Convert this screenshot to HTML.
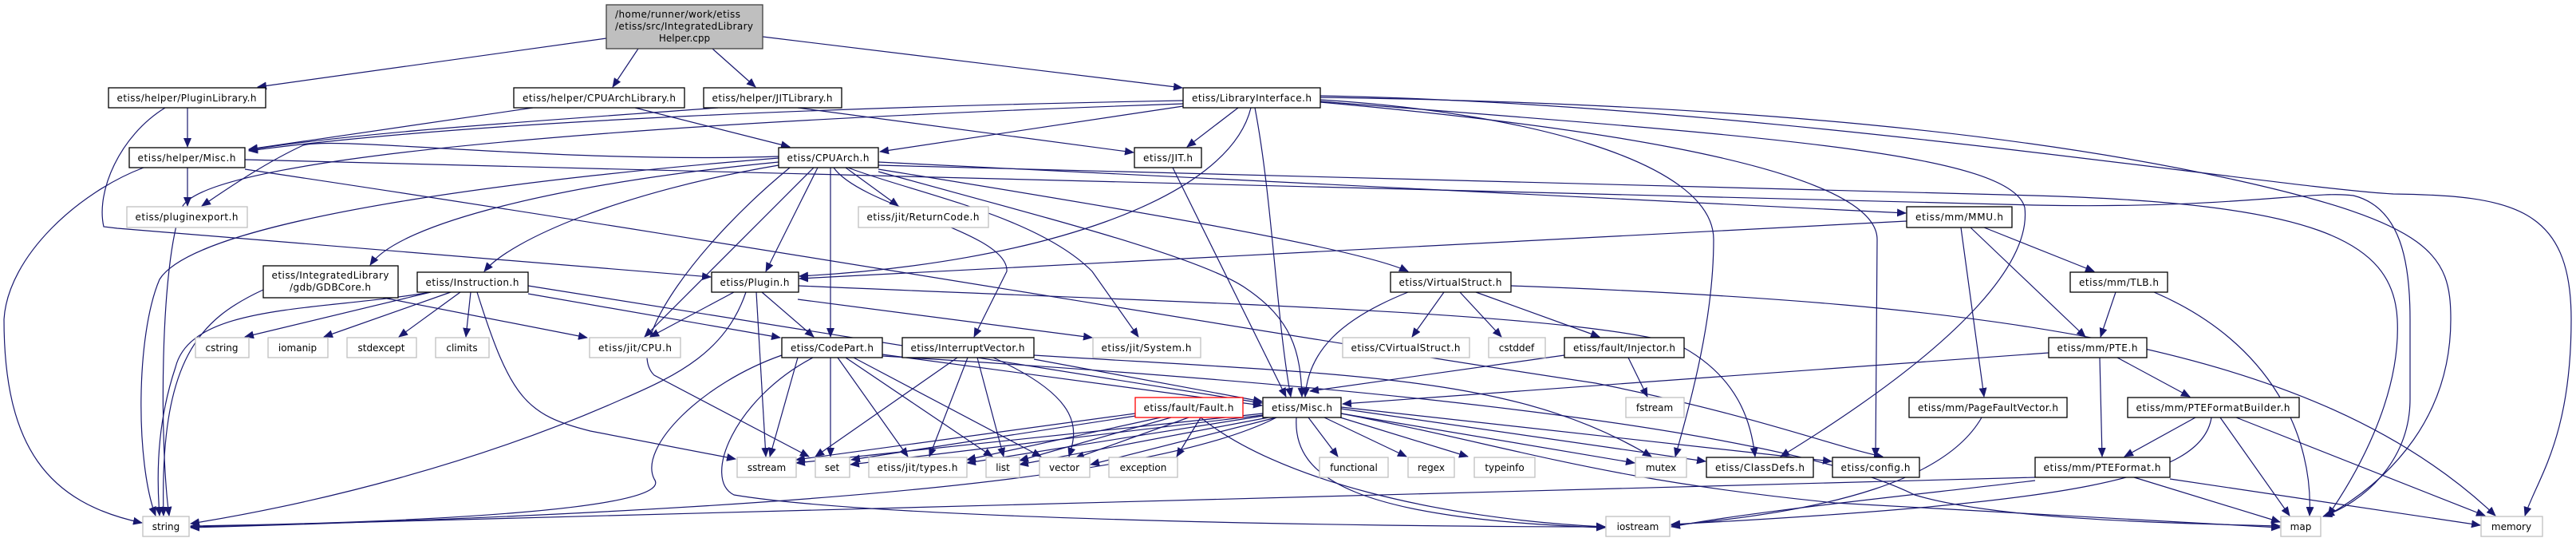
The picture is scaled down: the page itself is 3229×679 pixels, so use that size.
<!DOCTYPE html>
<html><head><meta charset="utf-8"><style>
html,body{margin:0;padding:0;background:#fff;width:3229px;height:679px;overflow:hidden}
svg text{font-family:"DejaVu Sans","Liberation Sans",sans-serif;font-size:12px;fill:#000}
.e{fill:none;stroke:#191970;stroke-width:1.2}
.b{fill:#fff;stroke:#000;stroke-width:1.3}
.g{fill:#fff;stroke:#bfbfbf;stroke-width:1.3}
</style></head><body>
<svg width="3229" height="679" viewBox="0 0 3229 679" xmlns="http://www.w3.org/2000/svg">
<defs><marker id="a" markerWidth="12" markerHeight="10" refX="11" refY="5" orient="auto" markerUnits="userSpaceOnUse"><path d="M0,0 L12,5 L0,10 z" fill="#191970"/></marker></defs>
<g class="e" marker-end="url(#a)">
<path d="M760,48 L323,109"/>
<path d="M800,61 L768,109"/>
<path d="M893,61 L947,109"/>
<path d="M956,46 L1482,110"/>
<path d="M235,135 L235,184"/>
<path d="M207,135 C150,170 120,240 130,284 L147,286 L891,347"/>
<path d="M668,135 L312,187"/>
<path d="M796,135 L990,184"/>
<path d="M900,135 C700,150 450,165 312,188"/>
<path d="M1483,126 C1100,133 600,150 312,189"/>
<path d="M976,196 C700,205 420,170 380,182 C330,205 280,240 253,258"/>
<path d="M1000,135 L1421,191"/>
<path d="M1483,133 L1103,190"/>
<path d="M1552,135 L1488,184"/>
<path d="M1568,135 C1540,250 1300,330 1002,346"/>
<path d="M1025,210 L960,340"/>
<path d="M2390,277 L1002,349"/>
<path d="M1573,135 C1595,250 1600,400 1618,497"/>
<path d="M1483,130 C900,150 260,190 228,260 C200,330 200,560 212,646"/>
<path d="M1655,125 C1900,140 2148,200 2148,300 C2148,400 2120,500 2100,572"/>
<path d="M1655,128 C1900,150 2353,200 2353,300 L2351,572"/>
<path d="M1655,127 C2200,170 2520,190 2538,260 C2545,320 2480,420 2232,572"/>
<path d="M1655,122 C2200,130 2550,170 2800,225 C3050,280 3072,320 3072,400 C3072,520 3000,600 2915,647"/>
<path d="M1655,120 C2200,130 2850,235 3000,243 C3150,245 3223,260 3223,400 C3223,550 3180,600 3165,646"/>
<path d="M307,200 L2550,257 C2800,262 2900,238 2950,245 C3010,260 3021,330 3021,400 L3021,500 C3021,580 2960,630 2912,647"/>
<path d="M307,212 C900,300 1600,420 2000,480 C2200,520 2300,560 2360,572"/>
<path d="M180,210 C100,240 10,320 5,400 C5,560 60,630 178,655"/>
<path d="M235,210 L235,258"/>
<path d="M976,203 C700,230 500,280 464,332"/>
<path d="M976,207 C780,240 640,300 607,340"/>
<path d="M976,198 C700,220 250,270 200,350 C170,420 170,580 195,646"/>
<path d="M1020,210 L808,422"/>
<path d="M1041,210 L1041,422"/>
<path d="M1045,210 C1080,260 1265,290 1262,340 L1221,422"/>
<path d="M1060,210 L1126,258"/>
<path d="M1063,210 C1140,240 1300,270 1369,340 L1427,422"/>
<path d="M1101,212 C1400,260 1700,310 1765,340"/>
<path d="M1101,203 L2389,267"/>
<path d="M990,210 C880,300 780,430 820,470 L1014,572"/>
<path d="M1101,207 L2550,245 C2900,255 3000,300 3005,400 C3010,500 2950,600 2918,646"/>
<path d="M1101,215 C1300,270 1500,320 1560,360 C1620,400 1630,440 1632,497"/>
<path d="M1470,210 L1612,497"/>
<path d="M2458,285 L2487,497"/>
<path d="M2487,285 L2625,340"/>
<path d="M2470,285 L2614,422"/>
<path d="M2652,366 L2633,422"/>
<path d="M2700,366 C2850,430 2900,550 2895,646"/>
<path d="M2568,442 L1683,506"/>
<path d="M2654,448 L2745,497"/>
<path d="M2632,448 L2635,572"/>
<path d="M2752,523 L2663,572"/>
<path d="M2783,523 L2870,646"/>
<path d="M2803,523 L3115,646"/>
<path d="M2772,523 C2760,600 2600,630 2095,657"/>
<path d="M2675,598 L2858,654"/>
<path d="M2720,600 L3109,658"/>
<path d="M2551,598 C1500,630 700,645 239,660"/>
<path d="M2551,602 C2400,620 2200,640 2095,660"/>
<path d="M2484,523 C2440,600 2300,640 2095,658"/>
<path d="M330,363 C250,400 200,450 205,646"/>
<path d="M480,373 L736,423"/>
<path d="M540,366 L307,422"/>
<path d="M565,366 L406,422"/>
<path d="M577,366 L500,422"/>
<path d="M590,366 L584,422"/>
<path d="M540,366 C400,390 240,380 220,460 C200,520 195,580 200,646"/>
<path d="M598,366 C640,500 660,520 740,540 L922,575"/>
<path d="M662,358 L1582,505"/>
<path d="M662,368 L978,423"/>
<path d="M920,366 L815,422"/>
<path d="M955,366 L1020,422"/>
<path d="M948,366 L960,572"/>
<path d="M935,366 C910,440 850,470 780,500 C600,580 400,630 239,656"/>
<path d="M1000,375 L1369,423"/>
<path d="M1001,358 C1500,380 1950,390 2100,430 C2180,470 2195,530 2200,572"/>
<path d="M1000,448 L965,572"/>
<path d="M1041,448 L1041,572"/>
<path d="M1050,448 L1138,572"/>
<path d="M1060,448 L1244,572"/>
<path d="M1070,448 L1305,572"/>
<path d="M1106,444 L1582,508"/>
<path d="M980,445 C880,480 800,560 820,600 C850,640 500,655 239,659"/>
<path d="M1019,448 C920,500 880,600 920,620 C1100,650 1700,660 2012,660"/>
<path d="M1106,446 C1500,470 2200,520 2400,620 C2500,650 2700,655 2858,659"/>
<path d="M1200,448 L1022,572"/>
<path d="M1213,448 L1165,572"/>
<path d="M1225,448 L1258,572"/>
<path d="M1245,448 C1360,500 1350,540 1340,572"/>
<path d="M1296,450 L1582,503"/>
<path d="M1296,445 C1700,470 1900,470 2070,572"/>
<path d="M1765,366 C1680,400 1640,440 1636,497"/>
<path d="M1810,366 L1770,422"/>
<path d="M1830,366 L1882,422"/>
<path d="M1850,366 L2005,422"/>
<path d="M1894,358 C2500,380 2900,430 3128,646"/>
<path d="M1961,445 L1642,490"/>
<path d="M2041,448 L2065,497"/>
<path d="M1423,518 L998,576"/>
<path d="M1430,520 L1067,576"/>
<path d="M1455,523 L1212,576"/>
<path d="M1468,523 L1278,577"/>
<path d="M1490,523 L1348,574"/>
<path d="M1505,523 L1475,572"/>
<path d="M1505,523 C1600,600 1800,650 2012,660"/>
<path d="M1583,518 L998,580"/>
<path d="M1583,520 L1066,582"/>
<path d="M1583,521 L1212,580"/>
<path d="M1590,523 L1278,582"/>
<path d="M1600,523 L1367,582"/>
<path d="M1640,523 L1677,572"/>
<path d="M1660,523 L1763,572"/>
<path d="M1680,523 L1840,572"/>
<path d="M1681,518 L2049,580"/>
<path d="M1681,512 L2138,578"/>
<path d="M1681,510 L2296,578"/>
<path d="M1625,523 C1620,600 1700,650 2012,661"/>
<path d="M1600,523 C1450,600 1000,640 239,661"/>
<path d="M1681,518 C1900,560 2000,600 2300,630 L2858,661"/>
</g>
<rect x="760" y="6" width="196" height="55" fill="#bfbfbf" stroke="#404040" stroke-width="1.3"/>
<text x="771" y="22" textLength="157">/home/runner/work/etiss</text>
<text x="771" y="37" textLength="173">/etiss/src/IntegratedLibrary</text>
<text x="858" y="52" text-anchor="middle">Helper.cpp</text>
<g>
<rect class="b" x="136" y="110" width="197" height="25"/><text x="234" y="127" text-anchor="middle" textLength="175">etiss/helper/PluginLibrary.h</text>
<rect class="b" x="644" y="110" width="214" height="25"/><text x="751" y="127" text-anchor="middle" textLength="192">etiss/helper/CPUArchLibrary.h</text>
<rect class="b" x="882" y="110" width="173" height="25"/><text x="968" y="127" text-anchor="middle" textLength="151">etiss/helper/JITLibrary.h</text>
<rect class="b" x="1483" y="110" width="172" height="25"/><text x="1569" y="127" text-anchor="middle" textLength="150">etiss/LibraryInterface.h</text>
<rect class="b" x="162" y="185" width="145" height="25"/><text x="234" y="202" text-anchor="middle" textLength="123">etiss/helper/Misc.h</text>
<rect class="b" x="976" y="185" width="125" height="25"/><text x="1038" y="202" text-anchor="middle" textLength="103">etiss/CPUArch.h</text>
<rect class="b" x="1422" y="185" width="84" height="25"/><text x="1464" y="202" text-anchor="middle" textLength="62">etiss/JIT.h</text>
<rect class="g" x="159" y="259" width="151" height="26"/><text x="234" y="276" text-anchor="middle" textLength="129">etiss/pluginexport.h</text>
<rect class="g" x="1076" y="259" width="163" height="26"/><text x="1157" y="276" text-anchor="middle" textLength="141">etiss/jit/ReturnCode.h</text>
<rect class="b" x="2390" y="259" width="132" height="26"/><text x="2456" y="276" text-anchor="middle" textLength="110">etiss/mm/MMU.h</text>
<rect class="b" x="330" y="333" width="169" height="40"/><text x="414" y="349" text-anchor="middle" textLength="147">etiss/IntegratedLibrary</text><text x="414" y="364" text-anchor="middle" textLength="102">/gdb/GDBCore.h</text>
<rect class="b" x="523" y="341" width="139" height="25"/><text x="592" y="358" text-anchor="middle" textLength="117">etiss/Instruction.h</text>
<rect class="b" x="892" y="341" width="109" height="25"/><text x="946" y="358" text-anchor="middle" textLength="87">etiss/Plugin.h</text>
<rect class="b" x="1743" y="341" width="151" height="25"/><text x="1818" y="358" text-anchor="middle" textLength="129">etiss/VirtualStruct.h</text>
<rect class="b" x="2595" y="341" width="122" height="25"/><text x="2656" y="358" text-anchor="middle" textLength="100">etiss/mm/TLB.h</text>
<rect class="g" x="245" y="423" width="67" height="25"/><text x="278" y="440" text-anchor="middle">cstring</text>
<rect class="g" x="336" y="423" width="75" height="25"/><text x="373" y="440" text-anchor="middle">iomanip</text>
<rect class="g" x="435" y="423" width="87" height="25"/><text x="478" y="440" text-anchor="middle">stdexcept</text>
<rect class="g" x="546" y="423" width="67" height="25"/><text x="579" y="440" text-anchor="middle">climits</text>
<rect class="g" x="739" y="423" width="114" height="25"/><text x="796" y="440" text-anchor="middle" textLength="92">etiss/jit/CPU.h</text>
<rect class="b" x="980" y="423" width="126" height="25"/><text x="1043" y="440" text-anchor="middle" textLength="104">etiss/CodePart.h</text>
<rect class="b" x="1131" y="423" width="165" height="25"/><text x="1213" y="440" text-anchor="middle" textLength="143">etiss/InterruptVector.h</text>
<rect class="g" x="1370" y="423" width="135" height="25"/><text x="1437" y="440" text-anchor="middle" textLength="113">etiss/jit/System.h</text>
<rect class="g" x="1683" y="423" width="159" height="25"/><text x="1762" y="440" text-anchor="middle" textLength="137">etiss/CVirtualStruct.h</text>
<rect class="g" x="1866" y="423" width="71" height="25"/><text x="1901" y="440" text-anchor="middle">cstddef</text>
<rect class="b" x="1961" y="423" width="150" height="25"/><text x="2036" y="440" text-anchor="middle" textLength="128">etiss/fault/Injector.h</text>
<rect class="b" x="2568" y="423" width="123" height="25"/><text x="2629" y="440" text-anchor="middle" textLength="101">etiss/mm/PTE.h</text>
<rect x="1423" y="498" width="135" height="25" fill="#fff" stroke="#ff0000" stroke-width="1.3"/><text x="1490" y="515" text-anchor="middle" textLength="113">etiss/fault/Fault.h</text>
<rect class="b" x="1583" y="498" width="98" height="25"/><text x="1632" y="515" text-anchor="middle" textLength="76">etiss/Misc.h</text>
<rect class="g" x="2038" y="498" width="73" height="25"/><text x="2074" y="515" text-anchor="middle">fstream</text>
<rect class="b" x="2393" y="498" width="198" height="25"/><text x="2492" y="515" text-anchor="middle" textLength="176">etiss/mm/PageFaultVector.h</text>
<rect class="b" x="2667" y="498" width="215" height="25"/><text x="2774" y="515" text-anchor="middle" textLength="193">etiss/mm/PTEFormatBuilder.h</text>
<rect class="g" x="924" y="573" width="74" height="25"/><text x="961" y="590" text-anchor="middle">sstream</text>
<rect class="g" x="1022" y="573" width="43" height="25"/><text x="1043" y="590" text-anchor="middle">set</text>
<rect class="g" x="1089" y="573" width="123" height="25"/><text x="1150" y="590" text-anchor="middle" textLength="101">etiss/jit/types.h</text>
<rect class="g" x="1236" y="573" width="42" height="25"/><text x="1257" y="590" text-anchor="middle">list</text>
<rect class="g" x="1303" y="573" width="63" height="25"/><text x="1334" y="590" text-anchor="middle">vector</text>
<rect class="g" x="1390" y="573" width="86" height="25"/><text x="1433" y="590" text-anchor="middle">exception</text>
<rect class="g" x="1654" y="573" width="86" height="25"/><text x="1697" y="590" text-anchor="middle">functional</text>
<rect class="g" x="1765" y="573" width="58" height="25"/><text x="1794" y="590" text-anchor="middle">regex</text>
<rect class="g" x="1848" y="573" width="76" height="25"/><text x="1886" y="590" text-anchor="middle">typeinfo</text>
<rect class="g" x="2050" y="573" width="64" height="25"/><text x="2082" y="590" text-anchor="middle">mutex</text>
<rect class="b" x="2139" y="573" width="134" height="25"/><text x="2206" y="590" text-anchor="middle" textLength="112">etiss/ClassDefs.h</text>
<rect class="b" x="2297" y="573" width="109" height="25"/><text x="2351" y="590" text-anchor="middle" textLength="87">etiss/config.h</text>
<rect class="b" x="2551" y="573" width="169" height="25"/><text x="2635" y="590" text-anchor="middle" textLength="147">etiss/mm/PTEFormat.h</text>
<rect class="g" x="179" y="647" width="58" height="25"/><text x="208" y="664" text-anchor="middle">string</text>
<rect class="g" x="2013" y="647" width="80" height="25"/><text x="2053" y="664" text-anchor="middle">iostream</text>
<rect class="g" x="2859" y="647" width="50" height="25"/><text x="2884" y="664" text-anchor="middle">map</text>
<rect class="g" x="3110" y="647" width="77" height="25"/><text x="3148" y="664" text-anchor="middle">memory</text>
</g>
</svg>
</body></html>
